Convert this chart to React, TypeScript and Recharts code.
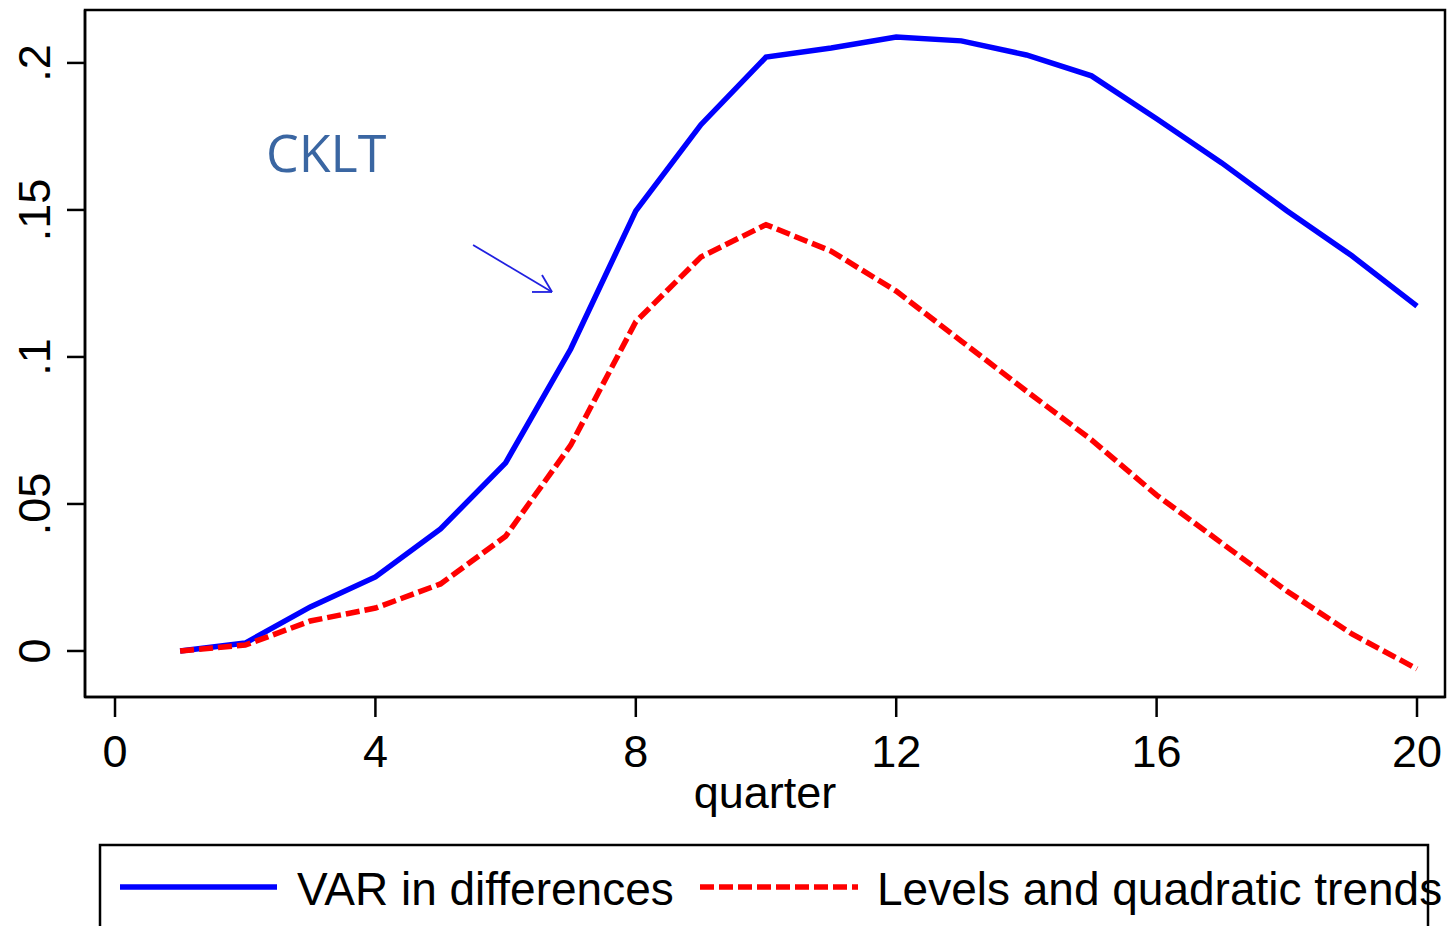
import React from "react";
import {
  LineChart,
  Line,
  XAxis,
  YAxis,
  ReferenceArea,
  ReferenceLine,
} from "recharts";

const quarters = [1, 2, 3, 4, 5, 6, 7, 8, 9, 10, 11, 12, 13, 14, 15, 16, 17, 18, 19, 20];
const varDiff = [
  0, 0.0027, 0.015, 0.0252, 0.0415, 0.064, 0.1027, 0.1497, 0.179, 0.202,
  0.2051, 0.2088, 0.2075, 0.2027, 0.1956, 0.181, 0.166, 0.1497, 0.1344, 0.1173,
];
const levelsQuad = [
  0, 0.002, 0.0102, 0.0146, 0.0228, 0.039, 0.07, 0.112, 0.134, 0.145,
  0.136, 0.1224, 0.1054, 0.0884, 0.0718, 0.053, 0.0367, 0.0204, 0.0058, -0.0061,
];
const seriesNames = ["VAR in differences", "Levels and quadratic trends"];
const xTicks = [0, 4, 8, 12, 16, 20];
const yTicks = [0, 0.05, 0.1, 0.15, 0.2];
const yTickLabels = ["0", ".05", ".1", ".15", ".2"];

const X_DOMAIN: [number, number] = [-0.461, 20.43];
const Y_DOMAIN: [number, number] = [-0.01565, 0.218];

const FONT = "'Liberation Sans', Arial, sans-serif";
const DASH = "14 5";

const data = quarters.map((q, i) => ({
  quarter: q,
  varDiff: varDiff[i],
  levelsQuad: levelsQuad[i],
}));

const XTick = (props: any) => (
  <text
    x={props.x}
    y={767}
    textAnchor="middle"
    fontFamily={FONT}
    fontSize={45}
    fill="#000"
  >
    {props.payload.value}
  </text>
);

const YTick = (props: any) => {
  const idx = yTicks.indexOf(props.payload.value);
  return (
    <text
      x={50}
      y={props.y}
      transform={`rotate(-90, 50, ${props.y})`}
      textAnchor="middle"
      fontFamily={FONT}
      fontSize={45}
      fill="#000"
    >
      {yTickLabels[idx] ?? props.payload.value}
    </text>
  );
};

export default function App() {
  const arrowStroke = "#2020e0";
  return (
    <div style={{ position: "absolute", left: 0, top: 0, width: 1447, height: 926, background: "#fff", overflow: "hidden" }}>
      <LineChart
        width={1447}
        height={840}
        data={data}
        margin={{ top: 10, right: 2, left: 0, bottom: 0 }}
      >
        <XAxis
          dataKey="quarter"
          type="number"
          domain={X_DOMAIN}
          allowDataOverflow
          ticks={xTicks}
          height={143}
          tick={<XTick />}
          tickSize={20}
          axisLine={{ stroke: "#000", strokeWidth: 2.5 }}
          tickLine={{ stroke: "#000", strokeWidth: 2.5 }}
          label={{
            content: () => (
              <text x={765} y={808} textAnchor="middle" fontFamily={FONT} fontSize={45} fill="#000">
                quarter
              </text>
            ),
          }}
        />
        <YAxis
          type="number"
          domain={Y_DOMAIN}
          allowDataOverflow
          ticks={yTicks}
          width={85}
          tick={<YTick />}
          tickSize={18}
          axisLine={{ stroke: "#000", strokeWidth: 2.5 }}
          tickLine={{ stroke: "#000", strokeWidth: 2.5 }}
        />
        <ReferenceArea
          x1={X_DOMAIN[0]}
          x2={X_DOMAIN[1]}
          y1={Y_DOMAIN[0]}
          y2={Y_DOMAIN[1]}
          fill="none"
          stroke="#000"
          strokeWidth={2.5}
          ifOverflow="visible"
        />
        <ReferenceLine
          segment={[{ x: 5.5, y: 0.1381 }, { x: 6.713, y: 0.1221 }]}
          stroke={arrowStroke}
          strokeWidth={1.8}
          ifOverflow="visible"
        />
        <ReferenceLine
          segment={[{ x: 6.559, y: 0.1279 }, { x: 6.713, y: 0.1221 }]}
          stroke={arrowStroke}
          strokeWidth={1.8}
          ifOverflow="visible"
        />
        <ReferenceLine
          segment={[{ x: 6.405, y: 0.1221 }, { x: 6.713, y: 0.1221 }]}
          stroke={arrowStroke}
          strokeWidth={1.8}
          ifOverflow="visible"
        />
        <Line
          type="linear"
          dataKey="varDiff"
          name={seriesNames[0]}
          stroke="#0000ff"
          strokeWidth={5.5}
          dot={false}
          activeDot={false}
          isAnimationActive={false}
        />
        <Line
          type="linear"
          dataKey="levelsQuad"
          name={seriesNames[1]}
          stroke="#ff0000"
          strokeWidth={5.5}
          strokeDasharray={DASH}
          dot={false}
          activeDot={false}
          isAnimationActive={false}
        />
      </LineChart>
      <svg
        width={1447}
        height={926}
        style={{ position: "absolute", left: 0, top: 0, pointerEvents: "none" }}
      >
        <text x={266} y={172} fontFamily="'Open Sans', sans-serif" fontSize={52} fill="#3a66a2">
          CKLT
        </text>
        <rect x={100} y={845} width={1328} height={120} fill="none" stroke="#000" strokeWidth={2.5} />
        <line x1={120} y1={887} x2={277} y2={887} stroke="#0000ff" strokeWidth={5.5} />
        <text x={297} y={905} fontFamily={FONT} fontSize={46} fill="#000">
          {seriesNames[0]}
        </text>
        <line
          x1={700}
          y1={887}
          x2={858}
          y2={887}
          stroke="#ff0000"
          strokeWidth={5.5}
          strokeDasharray={DASH}
        />
        <text x={877} y={905} fontFamily={FONT} fontSize={46} fill="#000">
          {seriesNames[1]}
        </text>
      </svg>
    </div>
  );
}
